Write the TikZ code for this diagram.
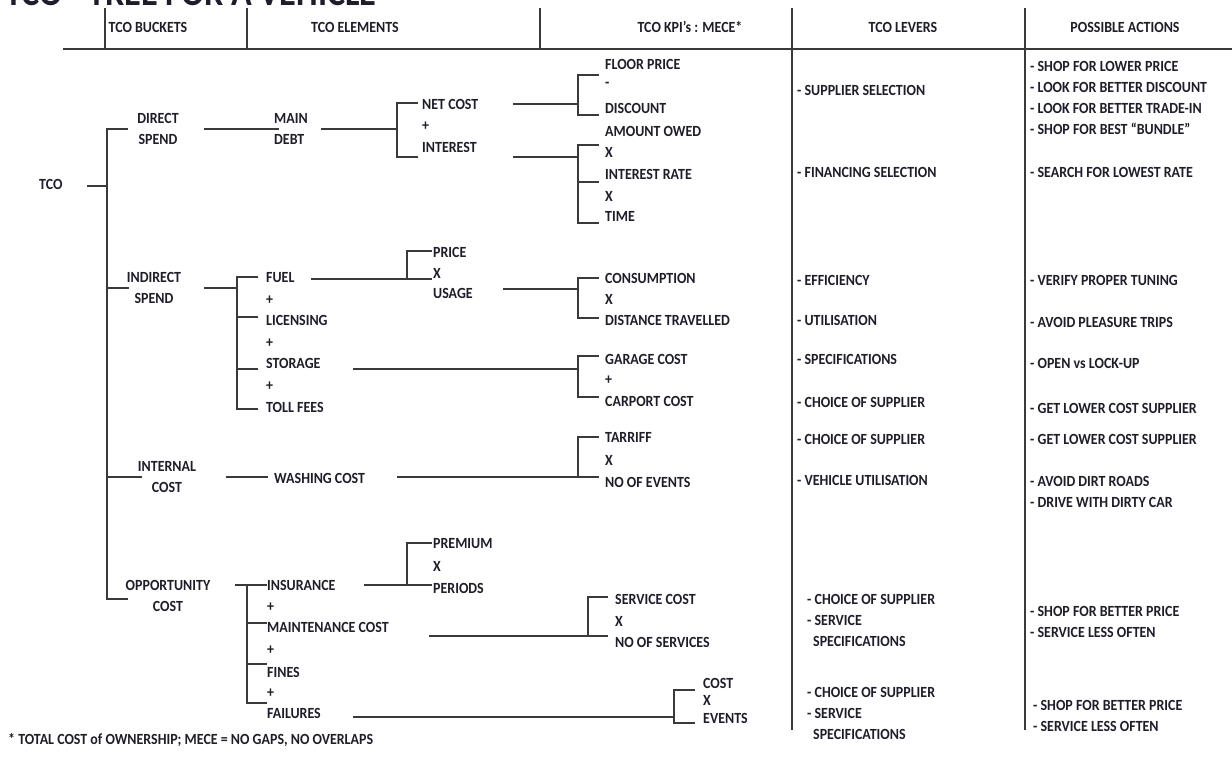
\documentclass[tikz,border=0pt]{standalone}
\usepackage{fontspec}
\setmainfont{Carlito}[FakeStretch=0.9]
\definecolor{ink}{HTML}{1E1E2A}
\definecolor{lnc}{HTML}{3A3A3A}
\tikzset{
 t/.style={anchor=west, inner sep=0pt, font=\fontsize{15.5}{21}\selectfont\bfseries, text=ink},
 tc/.style={t, anchor=center, align=center},
 tl/.style={t, align=left},
 ln/.style={draw=lnc, line width=1.8pt},
 hdl/.style={draw=lnc, line width=2.4pt},
}
\begin{document}
\begin{tikzpicture}[x=1pt,y=-1pt]
\useasboundingbox (0,0) rectangle (1232,756);
% title (clipped by page)
\node[anchor=base west, inner sep=0pt, font=\fontsize{38}{38}\selectfont\bfseries, text=ink] (title) at (5,5) {TCO - TREE FOR A VEHICLE};
% header
\node[tc] (hb) at (148,27) {TCO BUCKETS};
\node[tc] (he) at (355,27) {TCO ELEMENTS};
\node[tc] (hk) at (690,27) {TCO KPI’s : MECE*};
\node[tc] (hl) at (903,27) {TCO LEVERS};
\node[tc] (ha) at (1125,27) {POSSIBLE ACTIONS};
\coordinate (hL) at (63,49); \coordinate (hR) at (1232,49);
\draw[hdl] (hL) -- (hR);
\draw[ln] (105,8) -- (105,49);
\draw[ln] (247,8) -- (247,49);
\draw[ln] (540,8) -- (540,49);
\draw[ln] (792,8) -- (792,730);
\draw[ln] (1025,8) -- (1025,730);

% level 0/1
\node[t] (tco) at (39,184) {TCO};
\node[tc] (ds) at (158,129) {DIRECT\\SPEND};
\node[tc] (is) at (154,288) {INDIRECT\\SPEND};
\node[tc] (ic) at (167,477) {INTERNAL\\COST};
\node[tc] (oc) at (168,596) {OPPORTUNITY\\COST};
\draw[ln] (87,186) -- (107,186);
\draw[ln] (128,129) -- (107,129) -- (107,599) -- (128,599);
\draw[ln] (107,288) -- (129,288);
\draw[ln] (107,477) -- (142,477);

% direct spend
\node[tl] (md) at (274,129) {MAIN\\DEBT};
\draw[ln] (204,129) -- (279,129);
\draw[ln] (321,129) -- (397,129);
\draw[ln] (418,103) -- (397,103) -- (397,157) -- (418,157);
\node[t] (nc) at (422,104) {NET COST};
\node[t] (p1) at (422,126) {+};
\node[t] (in) at (422,147) {INTEREST};
\draw[ln] (513,104) -- (578,104);
\draw[ln] (599,75) -- (578,75) -- (578,115) -- (599,115);
\node[t] (fp) at (605,64) {FLOOR PRICE};
\node[t] (m1) at (605,85) {-};
\node[t] (dc) at (605,108) {DISCOUNT};
\draw[ln] (513,157) -- (578,157);
\draw[ln] (599,145) -- (578,145) -- (578,223) -- (599,223);
\draw[ln] (578,182) -- (599,182);
\node[t] (ao) at (605,131) {AMOUNT OWED};
\node[t] (x1) at (605,152) {X};
\node[t] (ir) at (605,174) {INTEREST RATE};
\node[t] (x2) at (605,196) {X};
\node[t] (tm) at (605,216) {TIME};

% indirect spend
\draw[ln] (204,288) -- (237,288);
\draw[ln] (258,277) -- (237,277) -- (237,409) -- (258,409);
\draw[ln] (237,317) -- (258,317);
\draw[ln] (237,369) -- (258,369);
\node[t] (fu) at (266,278) {FUEL};
\node[t] (p2) at (266,300) {+};
\node[t] (li) at (266,320) {LICENSING};
\node[t] (p3) at (266,343) {+};
\node[t] (st) at (266,363) {STORAGE};
\node[t] (p4) at (266,386) {+};
\node[t] (tf) at (266,407) {TOLL FEES};
\draw[ln] (311,279) -- (432,279);
\draw[ln] (407,279) -- (407,251) -- (432,251);
\node[t] (pr) at (433,252) {PRICE};
\node[t] (x3) at (433,273) {X};
\node[t] (us) at (433,293) {USAGE};
\draw[ln] (503,289) -- (578,289);
\draw[ln] (599,278) -- (578,278) -- (578,318) -- (599,318);
\node[t] (co) at (605,278) {CONSUMPTION};
\node[t] (x4) at (605,299) {X};
\node[t] (dt) at (605,320) {DISTANCE TRAVELLED};
\draw[ln] (353,369) -- (578,369);
\draw[ln] (599,356) -- (578,356) -- (578,397) -- (599,397);
\node[t] (gc) at (605,359) {GARAGE COST};
\node[t] (p5) at (605,380) {+};
\node[t] (cc) at (605,401) {CARPORT COST};

% internal cost
\draw[ln] (226,477) -- (268,477);
\node[t] (wc) at (274,478) {WASHING COST};
\draw[ln] (397,477) -- (599,477);
\draw[ln] (578,477) -- (578,437) -- (599,437);
\node[t] (ta) at (605,437) {TARRIFF};
\node[t] (x5) at (605,460) {X};
\node[t] (ne) at (605,482) {NO OF EVENTS};

% opportunity cost
\draw[ln] (235,585) -- (267,585);
\draw[ln] (247,585) -- (247,703) -- (267,703);
\draw[ln] (247,623) -- (267,623);
\draw[ln] (247,664) -- (267,664);
\node[t] (isu) at (267,585) {INSURANCE};
\node[t] (p6) at (267,607) {+};
\node[t] (mc) at (267,627) {MAINTENANCE COST};
\node[t] (p7) at (267,650) {+};
\node[t] (fi) at (267,672) {FINES};
\node[t] (p8) at (267,693) {+};
\node[t] (fa) at (267,713) {FAILURES};
\draw[ln] (364,585) -- (432,585);
\draw[ln] (407,585) -- (407,543) -- (432,543);
\node[t] (pm) at (433,544) {PREMIUM};
\node[t] (x6) at (433,566) {X};
\node[t] (pe) at (433,588) {PERIODS};
\draw[ln] (429,636) -- (608,636);
\draw[ln] (588,636) -- (588,597) -- (608,597);
\node[t] (sc) at (615,599) {SERVICE COST};
\node[t] (x7) at (615,621) {X};
\node[t] (ns) at (615,642) {NO OF SERVICES};
\draw[ln] (353,717) -- (674,717);
\draw[ln] (695,690) -- (674,690) -- (674,723) -- (695,723);
\node[t] (ct) at (703,683) {COST};
\node[t] (x8) at (703,700) {X};
\node[t] (ev) at (703,718) {EVENTS};

% levers
\node[t] (l1) at (797,90) {- SUPPLIER SELECTION};
\node[t] (l2) at (797,172) {- FINANCING SELECTION};
\node[t] (l3) at (797,280) {- EFFICIENCY};
\node[t] (l4) at (797,320) {- UTILISATION};
\node[t] (l5) at (797,359) {- SPECIFICATIONS};
\node[t] (l6) at (797,402) {- CHOICE OF SUPPLIER};
\node[t] (l7) at (797,439) {- CHOICE OF SUPPLIER};
\node[t] (l8) at (797,480) {- VEHICLE UTILISATION};
\node[tl] (l9) at (807,620) {- CHOICE OF SUPPLIER\\- SERVICE\\\hspace*{6pt}SPECIFICATIONS};
\node[tl] (l10) at (807,713) {- CHOICE OF SUPPLIER\\- SERVICE\\\hspace*{6pt}SPECIFICATIONS};

% actions
\node[tl] (a1) at (1030,98) {- SHOP FOR LOWER PRICE\\- LOOK FOR BETTER DISCOUNT\\- LOOK FOR BETTER TRADE-IN\\- SHOP FOR BEST “BUNDLE”};
\node[t] (a2) at (1030,172) {- SEARCH FOR LOWEST RATE};
\node[t] (a3) at (1030,280) {- VERIFY PROPER TUNING};
\node[t] (a4) at (1030,322) {- AVOID PLEASURE TRIPS};
\node[t] (a5) at (1030,363) {- OPEN vs LOCK-UP};
\node[t] (a6) at (1030,408) {- GET LOWER COST SUPPLIER};
\node[t] (a7) at (1030,439) {- GET LOWER COST SUPPLIER};
\node[tl] (a8) at (1030,492) {- AVOID DIRT ROADS\\- DRIVE WITH DIRTY CAR};
\node[tl] (a9) at (1030,622) {- SHOP FOR BETTER PRICE\\- SERVICE LESS OFTEN};
\node[tl] (a10) at (1033,716) {- SHOP FOR BETTER PRICE\\- SERVICE LESS OFTEN};

% footnote
\node[t] (fn) at (8,740) {* TOTAL COST of OWNERSHIP; MECE = NO GAPS, NO OVERLAPS};
\end{tikzpicture}
\end{document}
